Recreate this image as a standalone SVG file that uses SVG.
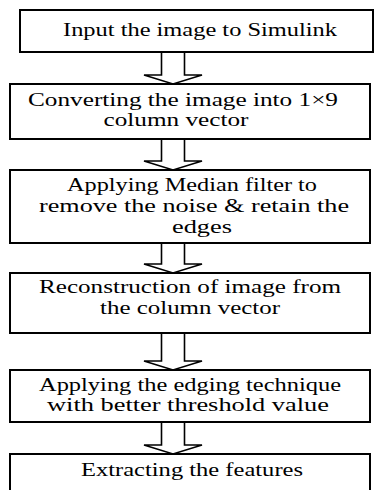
<svg xmlns="http://www.w3.org/2000/svg" width="375" height="490" viewBox="0 0 375 490">
  <style>
    .box { fill: #ffffff; stroke: #000000; stroke-width: 2; }
    .lbl { font-family: "Liberation Serif", "Times New Roman", serif; font-size: 18px; fill: #000000; text-anchor: middle; }
    .arrow { fill: #ffffff; stroke: #000000; stroke-width: 1.6; stroke-linejoin: miter; }
  </style>
  <rect width="375" height="490" fill="#ffffff"/>

  <!-- hollow block arrows between the steps -->
  <g id="connectors">
    <polygon class="arrow" points="161.5,52 161.5,75 144,75 173,84 202,75 184.5,75 184.5,52"/>
    <polygon class="arrow" points="161.5,139 161.5,161 144,161 173,170 202,161 184.5,161 184.5,139"/>
    <polygon class="arrow" points="161.5,243 161.5,264 144,264 173,273 202,264 184.5,264 184.5,243"/>
    <polygon class="arrow" points="161.5,333 161.5,361 144,361 173,370 202,361 184.5,361 184.5,333"/>
    <polygon class="arrow" points="161.5,422 161.5,445 144,445 173,454 202,445 184.5,445 184.5,422"/>
  </g>

  <g id="step1">
    <rect class="box" x="20" y="10" width="353" height="42"/>
    <text class="lbl" x="200" y="36" textLength="274" lengthAdjust="spacingAndGlyphs">Input the image to Simulink</text>
  </g>

  <g id="step2">
    <rect class="box" x="10" y="84" width="360" height="55"/>
    <text class="lbl" x="183" y="106" textLength="310" lengthAdjust="spacingAndGlyphs">Converting the image into 1×9</text>
    <text class="lbl" x="176" y="126" textLength="145" lengthAdjust="spacingAndGlyphs">column vector</text>
  </g>

  <g id="step3">
    <rect class="box" x="10" y="170" width="360" height="73"/>
    <text class="lbl" x="192" y="191" textLength="250" lengthAdjust="spacingAndGlyphs">Applying Median filter to</text>
    <text class="lbl" x="194" y="212" textLength="310" lengthAdjust="spacingAndGlyphs">remove the noise &amp; retain the</text>
    <text class="lbl" x="202" y="233" textLength="60" lengthAdjust="spacingAndGlyphs">edges</text>
  </g>

  <g id="step4">
    <rect class="box" x="10" y="273" width="360" height="60"/>
    <text class="lbl" x="190" y="293" textLength="302" lengthAdjust="spacingAndGlyphs">Reconstruction of image from</text>
    <text class="lbl" x="190" y="314" textLength="180" lengthAdjust="spacingAndGlyphs">the column vector</text>
  </g>

  <g id="step5">
    <rect class="box" x="10" y="370" width="360" height="52"/>
    <text class="lbl" x="190" y="391" textLength="302" lengthAdjust="spacingAndGlyphs">Applying the edging technique</text>
    <text class="lbl" x="188" y="411" textLength="282" lengthAdjust="spacingAndGlyphs">with better threshold value</text>
  </g>

  <g id="step6">
    <rect class="box" x="10" y="454" width="360" height="50"/>
    <text class="lbl" x="192" y="476" textLength="222" lengthAdjust="spacingAndGlyphs">Extracting the features</text>
  </g>
</svg>
